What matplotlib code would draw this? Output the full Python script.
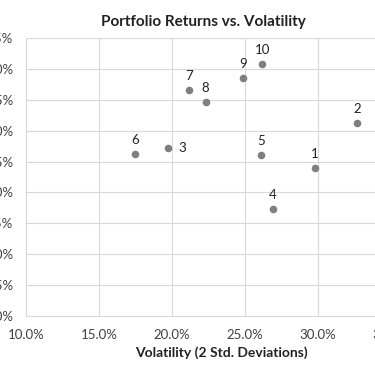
import matplotlib
matplotlib.use("Agg")
import matplotlib.pyplot as plt
from matplotlib.ticker import PercentFormatter, MultipleLocator

plt.rcParams.update({"font.family": ["Lato", "DejaVu Sans"]})

# portfolio ids, volatility (2 std. dev.) and return
portfolios = ["1", "2", "3", "4", "5", "6", "7", "8", "9", "10"]
volatility = [0.298, 0.327, 0.197, 0.269, 0.261, 0.175, 0.212, 0.223, 0.249, 0.262]
returns = [0.0239, 0.0313, 0.0272, 0.0174, 0.0261, 0.0262, 0.0366, 0.0346, 0.0385, 0.0408]

GREY = "#7f7f7f"
GRID = "#d9d9d9"

fig = plt.figure(figsize=(3.75, 3.66), dpi=100)
# plot area runs past both edges of the (cropped) image
ax = fig.add_axes([0.0693, 0.1366, 0.973, 0.7596])

ax.scatter(volatility, returns, s=30, color=GREY, zorder=3, linewidths=0)
for name, x, y in zip(portfolios, volatility, returns):
    if name == "3":
        ax.annotate(name, (x, y), xytext=(8, 0), textcoords="offset points",
                    ha="left", va="center", fontsize=9.5, color="#222222")
    else:
        ax.annotate(name, (x, y), xytext=(0, 10), textcoords="offset points",
                    ha="center", va="center", fontsize=9.5, color="#222222")

ax.set_xlim(0.10, 0.35)
ax.set_ylim(0.0, 0.045)
ax.xaxis.set_major_locator(MultipleLocator(0.05))
ax.yaxis.set_major_locator(MultipleLocator(0.005))
ax.xaxis.set_major_formatter(PercentFormatter(xmax=1, decimals=1))
ax.yaxis.set_major_formatter(PercentFormatter(xmax=1, decimals=1))
ax.tick_params(length=0, labelsize=9.5, labelcolor="#404040")
ax.tick_params(axis="x", pad=9)
ax.tick_params(axis="y", pad=9)

ax.grid(True, color=GRID, lw=0.8)
ax.set_axisbelow(True)
for side in ("top", "right"):
    ax.spines[side].set_visible(False)
for side in ("left", "bottom"):
    ax.spines[side].set_color(GRID)
    ax.spines[side].set_linewidth(0.8)

fig.text(203.5 / 375, 1 - 21.7 / 366, "Portfolio Returns vs. Volatility",
         ha="center", va="center", fontsize=11, fontweight="bold", color="#222222")
fig.text(221 / 375, 1 - 352.7 / 366, "Volatility (2 Std. Deviations)",
         ha="center", va="center", fontsize=10, fontweight="bold", color="#222222")

fig.savefig("out.png", dpi=100)
